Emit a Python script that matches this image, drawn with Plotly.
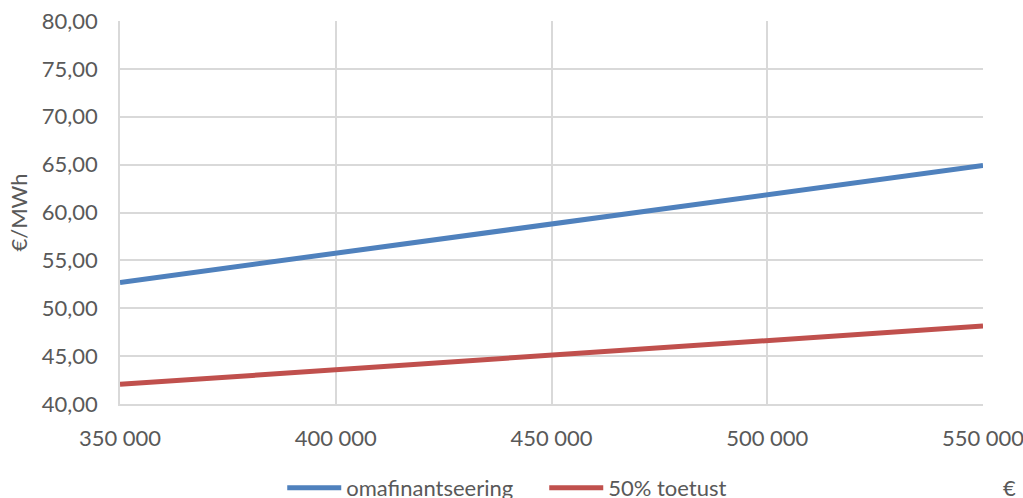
import plotly.graph_objects as go

# Investment cost (€) and resulting energy price (€/MWh)
investment = [350000, 400000, 450000, 500000, 550000]
self_financing = [52.70, 55.75, 58.80, 61.85, 64.90]
subsidy_50 = [42.05, 43.58, 45.10, 46.63, 48.15]

y_ticks = [40, 45, 50, 55, 60, 65, 70, 75, 80]
x_ticks = [350000, 400000, 450000, 500000, 550000]

font_family = "Lato, 'Open Sans', sans-serif"
text_color = "#595959"
grid_color = "#d9d9d9"
fs = 22

fig = go.Figure()
fig.add_trace(go.Scatter(
    x=investment, y=self_financing, mode="lines", name="omafinantseering",
    line=dict(color="#4F81BD", width=5),
))
fig.add_trace(go.Scatter(
    x=investment, y=subsidy_50, mode="lines", name="50% toetust",
    line=dict(color="#C0504D", width=5),
))

fig.update_layout(
    width=1023, height=498,
    margin=dict(l=120, r=40, t=21, b=94),
    paper_bgcolor="white", plot_bgcolor="white",
    separators=", ",
    font=dict(family=font_family, size=fs, color=text_color),
    showlegend=True,
    legend=dict(
        orientation="h", x=0.188, xanchor="left",
        yref="container", y=0.02, yanchor="middle",
        font=dict(size=fs, color=text_color),
        traceorder="normal", tracegroupgap=0,
        itemwidth=54, entrywidth=193, entrywidthmode="pixels",
    ),
    xaxis=dict(
        range=[350000, 550000], tickvals=x_ticks, tickformat=",d",
        showgrid=True, gridcolor=grid_color, gridwidth=1.5,
        showline=True, linecolor=grid_color, linewidth=1.5,
        zeroline=False, ticks="", ticklabelstandoff=14, automargin=False,
        ticklabeloverflow="allow",
    ),
    yaxis=dict(
        range=[40, 80], tickvals=y_ticks, tickformat=".2f",
        showgrid=True, gridcolor=grid_color, gridwidth=1.5,
        showline=True, linecolor=grid_color, linewidth=1.5,
        zeroline=False, ticks="", ticklabelstandoff=16, automargin=False,
        ticklabeloverflow="allow",
        title=dict(text="€/MWh", font=dict(size=fs, color=text_color), standoff=8),
    ),
    annotations=[dict(
        text="€", xref="paper", yref="paper", x=1.031, y=-0.219,
        xanchor="center", yanchor="middle", showarrow=False,
        font=dict(size=fs, color=text_color),
    )],
)

fig.write_html("out.html")
